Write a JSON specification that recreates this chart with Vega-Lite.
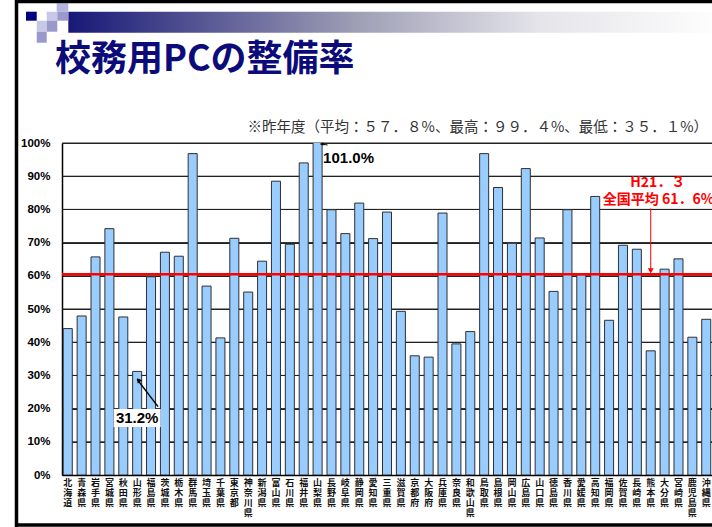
{
  "$schema": "https://vega.github.io/schema/vega-lite/v6.json",
  "width": 650,
  "height": 332,
  "autosize": {"type": "none"},
  "padding": {"left": 62, "top": 143, "right": 0, "bottom": 52},
  "background": "white",
  "config": {"view": {"stroke": null}},
  "datasets": {
    "pref": [
      {"pref": "北海道", "rate": 44.1},
      {"pref": "青森県", "rate": 47.9},
      {"pref": "岩手県", "rate": 65.7},
      {"pref": "宮城県", "rate": 74.2},
      {"pref": "秋田県", "rate": 47.6},
      {"pref": "山形県", "rate": 31.2},
      {"pref": "福島県", "rate": 59.7},
      {"pref": "茨城県", "rate": 67.1},
      {"pref": "栃木県", "rate": 65.9},
      {"pref": "群馬県", "rate": 96.8},
      {"pref": "埼玉県", "rate": 56.9},
      {"pref": "千葉県", "rate": 41.3},
      {"pref": "東京都", "rate": 71.3},
      {"pref": "神奈川県", "rate": 55.1},
      {"pref": "新潟県", "rate": 64.4},
      {"pref": "富山県", "rate": 88.5},
      {"pref": "石川県", "rate": 69.5},
      {"pref": "福井県", "rate": 94.0},
      {"pref": "山梨県", "rate": 101.0},
      {"pref": "長野県", "rate": 79.9},
      {"pref": "岐阜県", "rate": 72.7},
      {"pref": "静岡県", "rate": 81.9},
      {"pref": "愛知県", "rate": 71.2},
      {"pref": "三重県", "rate": 79.2},
      {"pref": "滋賀県", "rate": 49.3},
      {"pref": "京都府", "rate": 35.9},
      {"pref": "大阪府", "rate": 35.5},
      {"pref": "兵庫県", "rate": 78.9},
      {"pref": "奈良県", "rate": 39.5},
      {"pref": "和歌山県", "rate": 43.2},
      {"pref": "鳥取県", "rate": 96.8},
      {"pref": "島根県", "rate": 86.6},
      {"pref": "岡山県", "rate": 69.8},
      {"pref": "広島県", "rate": 92.3},
      {"pref": "山口県", "rate": 71.4},
      {"pref": "徳島県", "rate": 55.3},
      {"pref": "香川県", "rate": 79.9},
      {"pref": "愛媛県", "rate": 60.3},
      {"pref": "高知県", "rate": 83.9},
      {"pref": "福岡県", "rate": 46.6},
      {"pref": "佐賀県", "rate": 69.2},
      {"pref": "長崎県", "rate": 68.0},
      {"pref": "熊本県", "rate": 37.4},
      {"pref": "大分県", "rate": 62.0},
      {"pref": "宮崎県", "rate": 65.1},
      {"pref": "鹿児島県", "rate": 41.5},
      {"pref": "沖縄県", "rate": 46.9}
    ]
  },
  "resolve": {"scale": {"x": "independent", "y": "independent"}},
  "layer": [
    {
      "data": {"values": [{}]},
      "layer": [
        {
          "mark": {"type": "rect", "color": {"gradient": "linear", "x1": 0, "y1": 0, "x2": 1, "y2": 0, "stops": [{"offset": 0, "color": "#181878"}, {"offset": 0.44, "color": "#9c9cb4"}, {"offset": 0.73, "color": "#e4e4ea"}, {"offset": 1, "color": "#fdfdfd"}]}},
          "encoding": {
            "x": {"datum": 0.0097, "type": "quantitative", "scale": {"domain": [0, 1], "nice": false, "zero": false}, "axis": null},
            "x2": {"datum": 1.0},
            "y": {"datum": 139.55, "type": "quantitative", "scale": {"domain": [0, 100], "nice": false, "zero": false}, "axis": null},
            "y2": {"datum": 133.22}
          }
        },
        {"mark": {"type": "rule", "color": "#222222", "strokeWidth": 1}, "encoding": {"y": {"datum": 10, "type": "quantitative", "axis": null}}},
        {"mark": {"type": "rule", "color": "#222222", "strokeWidth": 1}, "encoding": {"y": {"datum": 20, "type": "quantitative", "axis": null}}},
        {"mark": {"type": "rule", "color": "#222222", "strokeWidth": 1}, "encoding": {"y": {"datum": 30, "type": "quantitative", "axis": null}}},
        {"mark": {"type": "rule", "color": "#222222", "strokeWidth": 1}, "encoding": {"y": {"datum": 40, "type": "quantitative", "axis": null}}},
        {"mark": {"type": "rule", "color": "#222222", "strokeWidth": 1}, "encoding": {"y": {"datum": 50, "type": "quantitative", "axis": null}}},
        {"mark": {"type": "rule", "color": "#222222", "strokeWidth": 1}, "encoding": {"y": {"datum": 60, "type": "quantitative", "axis": null}}},
        {"mark": {"type": "rule", "color": "#222222", "strokeWidth": 1}, "encoding": {"y": {"datum": 70, "type": "quantitative", "axis": null}}},
        {"mark": {"type": "rule", "color": "#222222", "strokeWidth": 1}, "encoding": {"y": {"datum": 80, "type": "quantitative", "axis": null}}},
        {"mark": {"type": "rule", "color": "#222222", "strokeWidth": 1}, "encoding": {"y": {"datum": 90, "type": "quantitative", "axis": null}}},
        {"mark": {"type": "rule", "color": "#222222", "strokeWidth": 1}, "encoding": {"y": {"datum": 100, "type": "quantitative", "axis": null}}},
        {
          "mark": {"type": "rect", "color": "#b4b4dc"},
          "encoding": {
            "x": {"datum": -0.0082, "type": "quantitative", "axis": null},
            "x2": {"datum": 0.0097},
            "y": {"datum": 142.08, "type": "quantitative", "axis": null},
            "y2": {"datum": 139.55}
          }
        },
        {
          "mark": {"type": "rect", "color": "#000080"},
          "encoding": {
            "x": {"datum": -0.0554, "type": "quantitative", "axis": null},
            "x2": {"datum": -0.0389},
            "y": {"datum": 139.55, "type": "quantitative", "axis": null},
            "y2": {"datum": 136.84}
          }
        },
        {
          "mark": {"type": "rect", "color": "#c8c8e6"},
          "encoding": {
            "x": {"datum": -0.0235, "type": "quantitative", "axis": null},
            "x2": {"datum": -0.0072},
            "y": {"datum": 139.55, "type": "quantitative", "axis": null},
            "y2": {"datum": 136.84}
          }
        },
        {
          "mark": {"type": "rect", "color": "#9999cc"},
          "encoding": {
            "x": {"datum": -0.0072, "type": "quantitative", "axis": null},
            "x2": {"datum": 0.0097},
            "y": {"datum": 139.55, "type": "quantitative", "axis": null},
            "y2": {"datum": 136.84}
          }
        },
        {
          "mark": {"type": "rect", "color": "#c8c8e6"},
          "encoding": {
            "x": {"datum": -0.0389, "type": "quantitative", "axis": null},
            "x2": {"datum": -0.0235},
            "y": {"datum": 136.84, "type": "quantitative", "axis": null},
            "y2": {"datum": 133.52}
          }
        },
        {
          "mark": {"type": "rect", "color": "#9999cc"},
          "encoding": {
            "x": {"datum": -0.0235, "type": "quantitative", "axis": null},
            "x2": {"datum": -0.0072},
            "y": {"datum": 136.84, "type": "quantitative", "axis": null},
            "y2": {"datum": 133.52}
          }
        },
        {
          "mark": {"type": "rect", "color": "#9999cc"},
          "encoding": {
            "x": {"datum": -0.0389, "type": "quantitative", "axis": null},
            "x2": {"datum": -0.0235},
            "y": {"datum": 133.52, "type": "quantitative", "axis": null},
            "y2": {"datum": 130.21}
          }
        },
        {
          "mark": {"type": "rule", "color": "#000000", "strokeWidth": 3.5},
          "encoding": {
            "x": {"datum": -0.07, "type": "quantitative", "axis": null},
            "y": {"datum": 143.1, "type": "quantitative", "axis": null},
            "y2": {"datum": -15.7}
          }
        },
        {
          "mark": {"type": "rule", "color": "#000000", "strokeWidth": 3.5},
          "encoding": {
            "x": {"datum": -0.07, "type": "quantitative", "axis": null},
            "x2": {"datum": 1.0},
            "y": {"datum": 142.6, "type": "quantitative", "axis": null}
          }
        },
        {
          "mark": {"type": "rule", "color": "#000000", "strokeWidth": 3.5},
          "encoding": {
            "x": {"datum": -0.07, "type": "quantitative", "axis": null},
            "x2": {"datum": 1.0},
            "y": {"datum": -15.06, "type": "quantitative", "axis": null}
          }
        },
        {
          "mark": {"type": "text", "text": "校務用PCの整備率", "font": "Noto Sans CJK JP", "fontSize": 36, "fontWeight": "bold", "color": "#0b0b7a", "align": "left", "baseline": "middle"},
          "encoding": {
            "x": {"datum": -0.0108, "type": "quantitative", "axis": null},
            "y": {"datum": 125.0, "type": "quantitative", "axis": null}
          }
        },
        {
          "mark": {"type": "text", "text": "※昨年度（平均：５７．８%、最高：９９．４%、最低：３５．１%）", "font": "Noto Sans CJK JP", "fontSize": 14.5, "color": "#333333", "align": "right", "baseline": "middle"},
          "encoding": {
            "x": {"datum": 0.994, "type": "quantitative", "axis": null},
            "y": {"datum": 104.5, "type": "quantitative", "axis": null}
          }
        }
      ]
    },
    {
      "data": {"name": "pref"},
      "mark": {"type": "bar", "fill": "#99ccff", "stroke": "#303030", "strokeWidth": 1, "clip": true},
      "encoding": {
        "x": {
          "field": "pref", "type": "nominal",
          "scale": {
            "domain": ["北海道","青森県","岩手県","宮城県","秋田県","山形県","福島県","茨城県","栃木県","群馬県","埼玉県","千葉県","東京都","神奈川県","新潟県","富山県","石川県","福井県","山梨県","長野県","岐阜県","静岡県","愛知県","三重県","滋賀県","京都府","大阪府","兵庫県","奈良県","和歌山県","鳥取県","島根県","岡山県","広島県","山口県","徳島県","香川県","愛媛県","高知県","福岡県","佐賀県","長崎県","熊本県","大分県","宮崎県","鹿児島県","沖縄県"],
            "paddingInner": 0.35, "paddingOuter": 0.09
          },
          "axis": {
            "title": null, "labelAngle": 0, "labelAlign": "center", "labelBaseline": "top",
            "labelExpr": "split(datum.label, '')",
            "labelFont": "Noto Sans CJK JP", "labelFontSize": 9, "labelFontWeight": "bold", "labelColor": "#111111",
            "labelLineHeight": 10, "labelPadding": 3, "labelOverlap": false, "labelLimit": 200,
            "ticks": false, "domainColor": "#000000", "domainWidth": 1.5, "grid": false
          }
        },
        "y": {
          "field": "rate", "type": "quantitative",
          "scale": {"domain": [0, 100], "nice": false},
          "axis": {
            "title": null, "values": [0,10,20,30,40,50,60,70,80,90,100],
            "labelExpr": "datum.value + '%'",
            "labelFont": "Liberation Sans", "labelFontSize": 11.5, "labelFontWeight": "bold", "labelColor": "#000000",
            "labelPadding": 12, "labelOverlap": false, "ticks": false, "domainColor": "#000000", "domainWidth": 1.5,
            "grid": true, "gridColor": "#222222", "gridWidth": 1
          }
        }
      }
    },
    {
      "data": {"values": [{}]},
      "layer": [
        {
          "mark": {"type": "rule", "color": "#ff0000", "strokeWidth": 1},
          "encoding": {
            "x": {
              "datum": "熊本県", "type": "nominal", "axis": null,
              "scale": {
                "domain": ["北海道","青森県","岩手県","宮城県","秋田県","山形県","福島県","茨城県","栃木県","群馬県","埼玉県","千葉県","東京都","神奈川県","新潟県","富山県","石川県","福井県","山梨県","長野県","岐阜県","静岡県","愛知県","三重県","滋賀県","京都府","大阪府","兵庫県","奈良県","和歌山県","鳥取県","島根県","岡山県","広島県","山口県","徳島県","香川県","愛媛県","高知県","福岡県","佐賀県","長崎県","熊本県","大分県","宮崎県","鹿児島県","沖縄県"],
                "paddingInner": 0.35, "paddingOuter": 0.09
              }
            },
            "y": {"datum": 80.3, "type": "quantitative", "axis": null, "scale": {"domain": [0, 100], "nice": false, "zero": false}},
            "y2": {"datum": 62.0}
          }
        },
        {
          "mark": {"type": "rule", "color": "#ff0000", "strokeWidth": 2.5},
          "encoding": {"y": {"datum": 60.5, "type": "quantitative", "axis": null}}
        },
        {
          "mark": {"type": "point", "shape": "triangle-down", "filled": true, "color": "#ff0000", "opacity": 1, "size": 35},
          "encoding": {
            "x": {"datum": "熊本県", "type": "nominal", "axis": null},
            "y": {"datum": 61.5, "type": "quantitative", "axis": null}
          }
        },
        {
          "mark": {"type": "text", "text": "H21．３", "font": "Noto Sans CJK JP", "fontSize": 14, "fontWeight": "bold", "color": "#ff0000", "align": "center", "baseline": "middle", "dx": 7},
          "encoding": {
            "x": {"datum": "熊本県", "type": "nominal", "axis": null},
            "y": {"datum": 87.9, "type": "quantitative", "axis": null}
          }
        },
        {
          "mark": {"type": "text", "text": "全国平均 61．6%", "font": "Noto Sans CJK JP", "fontSize": 14, "fontWeight": "bold", "color": "#ff0000", "align": "left", "baseline": "middle", "dx": -48},
          "encoding": {
            "x": {"datum": "熊本県", "type": "nominal", "axis": null},
            "y": {"datum": 82.8, "type": "quantitative", "axis": null}
          }
        },
        {
          "mark": {"type": "text", "text": "101.0%", "font": "Liberation Sans", "fontSize": 15, "fontWeight": "bold", "color": "#000000", "align": "left", "baseline": "middle", "dx": 5.5},
          "encoding": {
            "x": {"datum": "山梨県", "type": "nominal", "axis": null},
            "y": {"datum": 95.5, "type": "quantitative", "axis": null}
          }
        },
        {
          "mark": {"type": "rule", "color": "#000000", "strokeWidth": 1, "xOffset": 3, "x2Offset": 10},
          "encoding": {
            "x": {"datum": "山梨県", "type": "nominal", "axis": null},
            "x2": {"datum": "山梨県"},
            "y": {"datum": 99.7, "type": "quantitative", "axis": null},
            "y2": {"datum": 99.4}
          }
        },
        {
          "mark": {"type": "point", "shape": "triangle-left", "filled": true, "color": "#000000", "opacity": 1, "size": 14, "xOffset": 4},
          "encoding": {
            "x": {"datum": "山梨県", "type": "nominal", "axis": null},
            "y": {"datum": 99.7, "type": "quantitative", "axis": null}
          }
        },
        {
          "mark": {"type": "rule", "color": "#000000", "strokeWidth": 1.5, "x2Offset": 7},
          "encoding": {
            "x": {"datum": "山形県", "type": "nominal", "axis": null},
            "x2": {"datum": "福島県"},
            "y": {"datum": 28.8, "type": "quantitative", "axis": null},
            "y2": {"datum": 20.6}
          }
        },
        {
          "mark": {"type": "point", "shape": "triangle", "angle": -36.5, "filled": true, "color": "#000000", "opacity": 1, "size": 30, "xOffset": 1.8},
          "encoding": {
            "x": {"datum": "山形県", "type": "nominal", "axis": null},
            "y": {"datum": 28.4, "type": "quantitative", "axis": null}
          }
        },
        {
          "mark": {"type": "point", "shape": "M-1,-0.383H1V0.383H-1Z", "filled": true, "color": "#ffffff", "opacity": 1, "size": 2209},
          "encoding": {
            "x": {"datum": "山形県", "type": "nominal", "axis": null},
            "y": {"datum": 17.2, "type": "quantitative", "axis": null}
          }
        },
        {
          "mark": {"type": "text", "text": "31.2%", "font": "Liberation Sans", "fontSize": 15, "fontWeight": "bold", "color": "#000000", "align": "center", "baseline": "middle"},
          "encoding": {
            "x": {"datum": "山形県", "type": "nominal", "axis": null},
            "y": {"datum": 17.2, "type": "quantitative", "axis": null}
          }
        }
      ]
    }
  ]
}
